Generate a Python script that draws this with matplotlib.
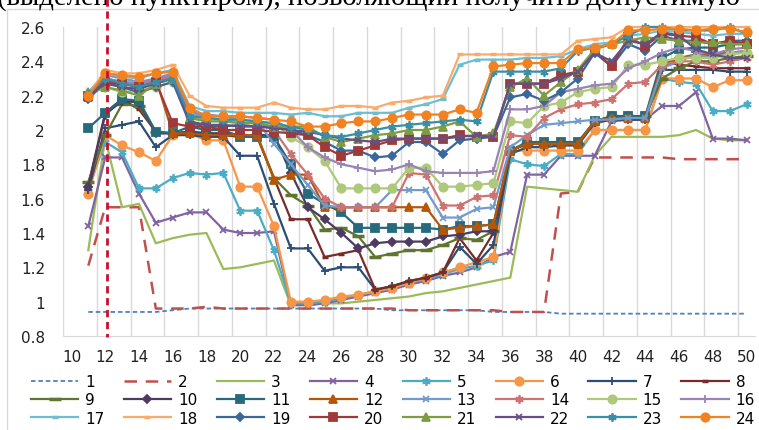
import matplotlib
matplotlib.use("Agg")
import matplotlib.pyplot as plt
from matplotlib.lines import Line2D
from matplotlib.patches import Rectangle

# ---------------- data ----------------
x = list(range(11, 51))
xtick_labels = [str(v) for v in range(10, 51, 2)]
ytick_values = [0.8, 1.0, 1.2, 1.4, 1.6, 1.8, 2.0, 2.2, 2.4, 2.6]
ytick_labels = ["0.8", "1", "1.2", "1.4", "1.6", "1.8", "2", "2.2", "2.4", "2.6"]
series_names = [str(i) for i in range(1, 25)]

s1 = [0.94,0.94,0.94,0.94,0.94, 0.95,0.96,0.96,0.96,0.96, 0.96,0.96,0.96,0.96,0.96, 0.96,0.96,0.96,0.95,0.95,
      0.95,0.95,0.95,0.95,0.94, 0.94,0.94,0.94,0.93,0.93, 0.93,0.93,0.93,0.93,0.93, 0.93,0.93,0.93,0.93,0.93]
s2 = [1.21,1.55,1.55,1.55,0.96, 0.96,0.96,0.97,0.96,0.96, 0.96,0.96,0.96,0.96,0.96, 0.96,0.96,0.96,0.96,0.95,
      0.95,0.95,0.95,0.95,0.95, 0.94,0.94,0.94,1.63,1.64, 1.84,1.84,1.84,1.84,1.84, 1.83,1.83,1.83,1.83,1.83]
s3 = [1.30,1.95,1.55,1.57,1.34, 1.37,1.39,1.40,1.19,1.20, 1.22,1.24,0.98,0.98,0.99, 0.99,1.00,1.01,1.02,1.03,
      1.05,1.06,1.08,1.10,1.12, 1.14,1.67,1.66,1.65,1.64, 1.85,1.96,1.96,1.96,1.96, 1.97,2.00,1.95,1.94,1.94]
s4 = [1.44,1.84,1.84,1.63,1.46, 1.49,1.52,1.52,1.42,1.40, 1.40,1.41,0.98,0.98,0.99, 1.01,1.03,1.05,1.07,1.10,
      1.12,1.15,1.17,1.20,1.26, 1.29,1.74,1.74,1.85,1.85, 1.85,2.05,2.06,2.06,2.14, 2.14,2.22,1.95,1.95,1.94]
s5 = [1.66,1.93,1.87,1.66,1.66, 1.72,1.75,1.74,1.75,1.53, 1.53,1.30,0.99,0.99,1.00, 1.02,1.04,1.06,1.08,1.11,
      1.13,1.16,1.19,1.21,1.24, 1.83,1.80,1.79,1.86,1.86, 2.00,2.00,2.00,2.00,2.30, 2.28,2.27,2.11,2.11,2.15]
s6 = [1.63,1.97,1.91,1.87,1.82, 1.97,1.98,1.94,1.94,1.67, 1.67,1.44,1.00,1.00,1.01, 1.03,1.04,1.06,1.08,1.11,
      1.14,1.17,1.20,1.23,1.26, 1.88,1.88,1.88,1.88,1.88, 2.00,2.00,2.00,2.00,2.30, 2.30,2.30,2.25,2.29,2.29]
s7 = [1.65,2.01,2.03,2.05,1.90, 1.97,1.97,1.96,1.96,1.85, 1.85,1.57,1.31,1.31,1.18, 1.20,1.20,1.07,1.09,1.12,
      1.14,1.17,1.32,1.22,1.33, 1.86,1.90,1.90,1.91,1.91, 2.04,2.06,2.06,2.06,2.35, 2.35,2.35,2.35,2.34,2.34]
s8 = [1.68,2.10,2.18,2.12,1.99, 1.98,1.98,1.97,1.97,1.96, 1.96,1.72,1.48,1.48,1.26, 1.28,1.30,1.07,1.09,1.12,
      1.14,1.17,1.37,1.24,1.40, 1.88,1.92,1.92,1.92,1.92, 2.05,2.07,2.07,2.07,2.40, 2.38,2.37,2.36,2.36,2.36]
s9 = [1.70,1.97,2.15,2.14,1.99, 1.98,1.99,1.98,1.98,1.97, 1.97,1.72,1.62,1.56,1.42, 1.43,1.38,1.26,1.28,1.30,
      1.30,1.33,1.37,1.36,1.41, 1.88,1.92,1.92,1.92,1.92, 2.05,2.08,2.08,2.08,2.30, 2.36,2.40,2.40,2.42,2.43]
s10 = [1.67,2.09,2.17,2.16,1.98, 1.98,1.99,1.98,1.98,1.97, 1.97,1.97,1.75,1.55,1.48, 1.40,1.31,1.34,1.35,1.35,
       1.35,1.38,1.39,1.41,1.41, 1.88,1.92,1.92,1.92,1.92, 2.05,2.08,2.08,2.08,2.36, 2.42,2.43,2.44,2.45,2.45]
s11 = [2.01,2.10,2.18,2.17,1.99, 1.98,2.02,2.00,2.00,1.96, 1.96,1.96,1.80,1.63,1.57, 1.52,1.43,1.43,1.43,1.43,
       1.43,1.42,1.44,1.44,1.45, 1.88,1.93,1.93,1.93,1.93, 2.05,2.08,2.08,2.08,2.42, 2.47,2.48,2.48,2.50,2.50]
s12 = [2.19,2.30,2.28,2.27,2.30, 1.98,1.98,1.97,1.97,1.97, 1.97,1.71,1.74,1.74,1.55, 1.55,1.55,1.55,1.55,1.55,
       1.55,1.42,1.43,1.44,1.45, 1.88,1.92,1.92,1.92,1.92, 2.05,2.07,2.07,2.07,2.38, 2.42,2.44,2.44,2.45,2.46]
s13 = [2.20,2.32,2.30,2.28,2.30, 2.32,2.10,2.08,2.08,2.06, 2.05,1.92,1.80,1.68,1.56, 1.55,1.55,1.55,1.65,1.65,
       1.65,1.49,1.49,1.54,1.55, 1.90,1.97,2.03,2.04,2.05, 2.06,2.06,2.07,2.07,2.36, 2.40,2.44,2.42,2.45,2.46]
s14 = [2.19,2.29,2.27,2.26,2.29, 2.31,2.09,2.07,2.06,2.05, 2.05,2.00,1.86,1.74,1.60, 1.55,1.55,1.55,1.55,1.75,
       1.74,1.56,1.56,1.61,1.62, 1.97,1.96,2.07,2.12,2.15, 2.16,2.18,2.27,2.28,2.38, 2.40,2.40,2.38,2.40,2.42]
s15 = [2.20,2.25,2.22,2.23,2.25, 2.28,2.08,2.06,2.06,2.05, 2.04,2.04,1.96,1.90,1.82, 1.66,1.66,1.66,1.66,1.78,
       1.78,1.67,1.67,1.68,1.69, 2.05,2.04,2.14,2.16,2.22, 2.24,2.25,2.38,2.38,2.40, 2.42,2.42,2.42,2.44,2.45]
s16 = [2.21,2.30,2.28,2.27,2.30, 2.33,2.11,2.09,2.08,2.08, 2.07,2.06,2.00,1.90,1.84, 1.80,1.78,1.76,1.77,1.80,
       1.76,1.75,1.75,1.75,1.76, 2.12,2.12,2.14,2.22,2.24, 2.26,2.27,2.36,2.40,2.45, 2.48,2.46,2.44,2.47,2.48]
s17 = [2.22,2.33,2.31,2.30,2.33, 2.35,2.14,2.11,2.11,2.10, 2.10,2.10,2.09,2.10,2.08, 2.08,2.10,2.10,2.10,2.13,
       2.15,2.18,2.38,2.41,2.41, 2.41,2.42,2.42,2.43,2.47, 2.50,2.51,2.55,2.56,2.58, 2.57,2.56,2.55,2.56,2.56]
s18 = [2.20,2.35,2.33,2.33,2.35, 2.38,2.20,2.14,2.13,2.13, 2.13,2.16,2.13,2.12,2.12, 2.14,2.14,2.13,2.16,2.17,
       2.19,2.20,2.44,2.44,2.44, 2.44,2.44,2.44,2.44,2.52, 2.53,2.54,2.60,2.60,2.60, 2.60,2.60,2.60,2.60,2.60]
s19 = [2.18,2.28,2.25,2.22,2.25, 2.28,2.04,2.02,2.02,2.03, 2.02,2.02,2.00,1.97,1.93, 1.88,1.88,1.84,1.85,1.93,
       1.93,1.86,1.94,1.95,1.96, 2.19,2.21,2.17,2.22,2.30, 2.45,2.37,2.50,2.46,2.55, 2.52,2.52,2.50,2.52,2.52]
s20 = [2.20,2.28,2.27,2.25,2.28, 2.04,2.02,2.02,2.00,2.00, 2.00,1.99,1.98,1.97,1.90, 1.85,1.88,1.91,1.94,1.95,
       1.95,1.95,1.97,1.96,1.96, 2.27,2.27,2.27,2.32,2.34, 2.46,2.37,2.54,2.49,2.56, 2.55,2.54,2.50,2.52,2.50]
s21 = [2.22,2.25,2.23,2.20,2.27, 2.30,2.07,2.05,2.05,2.04, 2.04,2.02,2.02,2.02,1.96, 1.93,1.95,1.97,1.98,2.00,
       2.00,2.02,2.05,1.96,1.98, 2.25,2.30,2.20,2.28,2.35, 2.47,2.50,2.52,2.54,2.53, 2.52,2.51,2.51,2.50,2.50]
s22 = [2.20,2.27,2.25,2.24,2.27, 2.30,2.05,2.03,2.03,2.02, 2.02,2.01,2.00,1.99,1.97, 1.95,1.94,1.93,1.95,1.95,
       1.95,1.95,1.96,1.97,1.96, 2.27,2.27,2.27,2.30,2.34, 2.45,2.40,2.52,2.50,2.57, 2.55,2.47,2.44,2.42,2.42]
s23 = [2.21,2.30,2.27,2.25,2.28, 2.30,2.08,2.07,2.06,2.06, 2.05,2.04,2.02,2.00,1.97, 1.96,1.98,2.00,2.02,2.03,
       2.04,2.05,2.06,2.05,2.34, 2.34,2.34,2.34,2.36,2.46, 2.48,2.50,2.55,2.60,2.60, 2.58,2.58,2.58,2.60,2.56]
s24 = [2.20,2.33,2.32,2.31,2.33, 2.34,2.13,2.08,2.08,2.08, 2.07,2.06,2.05,2.02,2.02, 2.04,2.05,2.05,2.07,2.09,
       2.09,2.09,2.12,2.10,2.37, 2.38,2.39,2.39,2.39,2.47, 2.48,2.50,2.58,2.58,2.59, 2.59,2.58,2.59,2.59,2.57]

series = [s1, s2, s3, s4, s5, s6, s7, s8, s9, s10, s11, s12,
          s13, s14, s15, s16, s17, s18, s19, s20, s21, s22, s23, s24]

# ---------------- styles ----------------
colors = ["#4F81BD", "#C0504D", "#9BBB59", "#8064A2", "#4BACC6", "#F79646",
          "#2C4D75", "#772C2A", "#5F7530", "#4D3B62", "#276A7C", "#B65708",
          "#729ACA", "#CD7371", "#AFC97A", "#9983B5", "#6FBDD1", "#F9AB6B",
          "#3A679C", "#9E3B38", "#7E9C44", "#664F83", "#3A8EA6", "#F2811F"]
asterisk = (6, 2, 0)
markers = [None, None, None, "x", asterisk, "o",
           "+", "_", "_", "D", "s", "^",
           "x", asterisk, "o", "+", "_", "_",
           "D", "s", "^", "x", asterisk, "o"]
msizes = [0, 0, 0, 5, 6, 6,
          6, 5, 8, 4.5, 5.5, 5.5,
          5, 6, 6, 6, 5, 5,
          4.5, 5.5, 5.5, 5, 6, 6]

W, H = 759, 431
fig = plt.figure(figsize=(W / 100, H / 100), dpi=100)
fig.patch.set_facecolor("white")

# chart frame
fig.patches.append(Rectangle((7 / W, -0.05), 1.2, 1 - 10 / H + 0.05,
                             transform=fig.transFigure, fill=False,
                             ec="#D9D9D9", lw=1.0, zorder=0))

# cut document text on top
fig.text(-0.004, 1 - 5 / H, "(выделено пунктиром), позволяющий получить допустимую",
         fontsize=20.7, family="Liberation Serif", va="baseline", ha="left", color="black")

ax = fig.add_axes([63 / W, 1 - 337 / H, (755 - 63) / W, (337 - 28) / H])
ax.set_facecolor("white")

handles = []
for i, ys in enumerate(series):
    kw = dict(color=colors[i], lw=1.6, label=series_names[i], clip_on=False)
    if markers[i] is not None:
        kw.update(marker=markers[i], ms=msizes[i], mfc=colors[i], mec=colors[i], mew=1.3)
        if markers[i] == "_":
            kw.update(mew=2.5)
    line, = ax.plot(x, ys, **kw)
    if i == 0:
        line.set_linewidth(1.3)
        line.set_dashes((2.5, 1.6))
    elif i == 1:
        line.set_linewidth(1.8)
        line.set_dashes((5, 3.5))
    handles.append(line)

ax.set_xlim(9.5, 50.5)
ax.set_ylim(0.8, 2.6)
ax.set_xticks(range(10, 51, 2))
ax.set_xticklabels(xtick_labels)
ax.set_xticks([9.5 + 2 * k for k in range(21)], minor=True)
ax.set_yticks(ytick_values)
ax.set_yticklabels(ytick_labels)
ax.grid(which="minor", axis="x", color="#D9D9D9", lw=1.0)
ax.set_axisbelow(True)
ax.tick_params(which="both", length=0)
ax.tick_params(axis="y", pad=13, labelsize=11, labelcolor="#222222")
ax.tick_params(axis="x", pad=9, labelsize=11, labelcolor="#222222")
for s in ["top", "right", "left"]:
    ax.spines[s].set_visible(False)
ax.spines["bottom"].set_color("#D9D9D9")

# red dashed vertical annotation
fig.lines.append(Line2D([107 / W, 107 / W], [1.0, 1 - 338 / H], transform=fig.transFigure,
                        color="#C8102E", lw=2.0, dashes=(2.6, 1.7), zorder=10))

# legend: row-major order (matplotlib fills column by column)
ncol, nrow = 8, 3
order = [c + ncol * r for c in range(ncol) for r in range(nrow)]
fig.legend([handles[k] for k in order], [series_names[k] for k in order],
           loc="center", ncol=ncol,
           bbox_to_anchor=(393 / W, 1 - 401 / H), frameon=False, fontsize=11,
           handlelength=3.1, handletextpad=0.45, columnspacing=1.27,
           labelspacing=0.2, numpoints=1, borderpad=0.0, borderaxespad=0.0)

fig.savefig("out.png", dpi=100, facecolor="white")
